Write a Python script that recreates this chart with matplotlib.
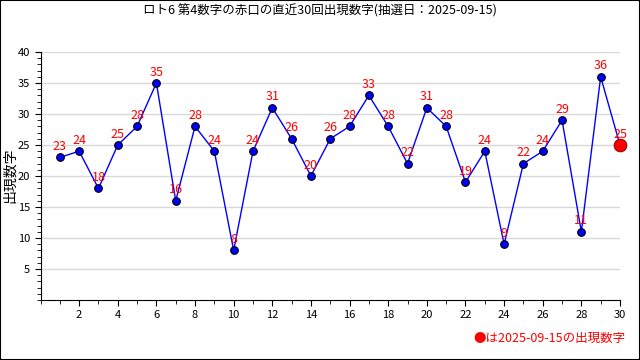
import matplotlib
matplotlib.use("Agg")
import matplotlib.pyplot as plt
from matplotlib.ticker import MultipleLocator, FixedLocator

plt.rcParams['font.family'] = ['Noto Sans CJK JP', 'DejaVu Sans']

# data
draws = list(range(1, 31))
numbers = [23, 24, 18, 25, 28, 35, 16, 28, 24, 8, 24, 31, 26, 20, 26, 28, 33, 28,
           22, 31, 28, 19, 24, 9, 22, 24, 29, 11, 36, 25]
x_ticks = list(range(2, 31, 2))
y_ticks = [5, 10, 15, 20, 25, 30, 35, 40]
title = 'ロト6 第4数字の赤口の直近30回出現数字(抽選日：2025-09-15)'
y_label = '出現数字'
note = '●は2025-09-15の出現数字'

fig = plt.figure(figsize=(6.4, 3.6), dpi=100)
ax = fig.add_axes([40.5 / 640, 60 / 360, (620 - 40.5) / 640, (300 - 52) / 360])

ax.plot(draws, numbers, color='#0000ff', linewidth=1, zorder=2)
ax.plot(draws[:-1], numbers[:-1], 'o', color='#0000ff', markeredgecolor='black',
        markeredgewidth=0.8, markersize=5.5, zorder=3)
ax.plot(draws[-1], numbers[-1], 'o', color='#ff0000', markeredgecolor='#990000',
        markeredgewidth=0.8, markersize=9, zorder=4, clip_on=False)

for xv, yv in zip(draws, numbers):
    ax.text(xv, yv + 0.7, str(yv), color='#ff0000', fontsize=9,
            ha='center', va='bottom', zorder=5)

ax.set_xlim(0, 30)
ax.set_ylim(0, 40)
ax.xaxis.set_major_locator(FixedLocator(x_ticks))
ax.set_xticklabels([str(v) for v in x_ticks])
ax.xaxis.set_minor_locator(MultipleLocator(1))
ax.yaxis.set_major_locator(FixedLocator(y_ticks))
ax.set_yticklabels([str(v) for v in y_ticks])
ax.yaxis.set_minor_locator(MultipleLocator(1))
ax.tick_params(axis='both', which='major', direction='out', length=4, labelsize=8)
ax.tick_params(axis='both', which='minor', direction='out', length=3)

ax.grid(axis='y', color='#d9d9d9', linewidth=1, zorder=0)
ax.spines['top'].set_visible(False)
ax.spines['right'].set_visible(False)

fig.text(0.5, 1 - 11 / 360, title, ha='center', va='center', fontsize=9)
fig.text(10 / 640, 1 - 175 / 360, y_label, rotation=90, ha='center', va='center', fontsize=10)
fig.text(625 / 640, 1 - 338 / 360, note, color='#ff0000', ha='right', va='center', fontsize=9)

fig.patches.append(plt.Rectangle((0, 0), 1, 1, transform=fig.transFigure, fill=False,
                                 edgecolor='black', linewidth=1.5))

fig.savefig('out.png', dpi=100)
